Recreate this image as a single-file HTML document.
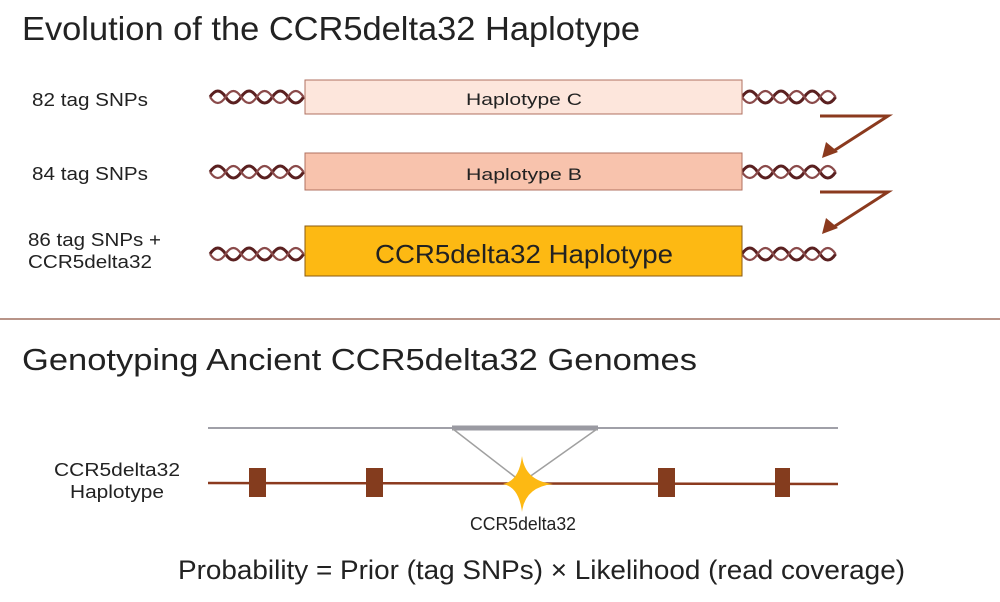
<!DOCTYPE html><html><head><style>body{margin:0;background:#fff}svg{display:block}text{font-family:"Liberation Sans",sans-serif;fill:#222}</style></head><body>
<svg width="1000" height="602" viewBox="0 0 1000 602" xmlns="http://www.w3.org/2000/svg">
<defs>
<g id="hx"><path d="M0,0 q7.8,-12 15.6,0 t15.6,0 t15.6,0 t15.6,0 t15.6,0 t15.6,0" fill="none" stroke="#5a2020" stroke-width="3"/><path d="M0,0 q7.8,12 15.6,0 t15.6,0 t15.6,0 t15.6,0 t15.6,0 t15.6,0" fill="none" stroke="#8a4a4a" stroke-width="2.2"/></g>
</defs>
<text x="22" y="40" font-size="33" textLength="618" lengthAdjust="spacingAndGlyphs">Evolution of the CCR5delta32 Haplotype</text>
<text x="32" y="106" font-size="18" textLength="116" lengthAdjust="spacingAndGlyphs">82 tag SNPs</text>
<text x="32" y="180" font-size="18" textLength="116" lengthAdjust="spacingAndGlyphs">84 tag SNPs</text>
<text x="28" y="246" font-size="18" textLength="133" lengthAdjust="spacingAndGlyphs">86 tag SNPs +</text>
<text x="28" y="268" font-size="18" textLength="124" lengthAdjust="spacingAndGlyphs">CCR5delta32</text>
<use href="#hx" x="210" y="97"/><use href="#hx" x="742" y="97"/>
<use href="#hx" x="210" y="172"/><use href="#hx" x="742" y="172"/>
<use href="#hx" x="210" y="254"/><use href="#hx" x="742" y="254"/>
<rect x="305" y="80" width="437" height="34" fill="#fde6dc" stroke="#b07060" stroke-width="1"/>
<text x="524" y="105" font-size="17" text-anchor="middle" textLength="116" lengthAdjust="spacingAndGlyphs">Haplotype C</text>
<rect x="305" y="153" width="437" height="37" fill="#f8c3ad" stroke="#b07060" stroke-width="1"/>
<text x="524" y="180" font-size="17" text-anchor="middle" textLength="116" lengthAdjust="spacingAndGlyphs">Haplotype B</text>
<rect x="305" y="226" width="437" height="50" fill="#fdb913" stroke="#8a5a10" stroke-width="1"/>
<text x="524" y="263" font-size="26" text-anchor="middle" textLength="298" lengthAdjust="spacingAndGlyphs">CCR5delta32 Haplotype</text>
<g stroke="#8b3a1e" stroke-width="3" fill="none"><polyline points="820,116 888,116 832,152"/><polyline points="820,192 888,192 832,228"/></g>
<polygon points="822,158 826,142 838,152" fill="#8b3a1e"/><polygon points="822,234 826,218 838,228" fill="#8b3a1e"/>
<line x1="0" y1="319" x2="1000" y2="319" stroke="#a07060" stroke-width="1.5"/>
<text x="22" y="370" font-size="31" textLength="675" lengthAdjust="spacingAndGlyphs">Genotyping Ancient CCR5delta32 Genomes</text>
<line x1="208" y1="428" x2="838" y2="428" stroke="#a0a0a8" stroke-width="2"/>
<line x1="452" y1="428" x2="598" y2="428" stroke="#9a9aa2" stroke-width="5"/>
<g stroke="#a0a0a0" stroke-width="1.5"><line x1="453" y1="429" x2="519" y2="480"/><line x1="597" y1="429" x2="525" y2="480"/></g>
<line x1="208" y1="483" x2="838" y2="484" stroke="#8b3a1e" stroke-width="2.5"/>
<g fill="#843c1e"><rect x="249" y="468" width="17" height="29"/><rect x="366" y="468" width="17" height="29"/><rect x="658" y="468" width="17" height="29"/><rect x="775" y="468" width="15" height="29"/></g>
<path d="M522,456 Q525,481 553,484 Q525,487 522,512 Q519,487 503,484 Q519,481 522,456Z" fill="#fdb913"/>
<text x="470" y="530" font-size="18" textLength="106" lengthAdjust="spacingAndGlyphs">CCR5delta32</text>
<text x="54" y="476" font-size="18" textLength="126" lengthAdjust="spacingAndGlyphs">CCR5delta32</text>
<text x="70" y="498" font-size="18" textLength="94" lengthAdjust="spacingAndGlyphs">Haplotype</text>
<text x="178" y="579" font-size="27" textLength="727" lengthAdjust="spacingAndGlyphs">Probability = Prior (tag SNPs) × Likelihood (read coverage)</text>
</svg></body></html>
